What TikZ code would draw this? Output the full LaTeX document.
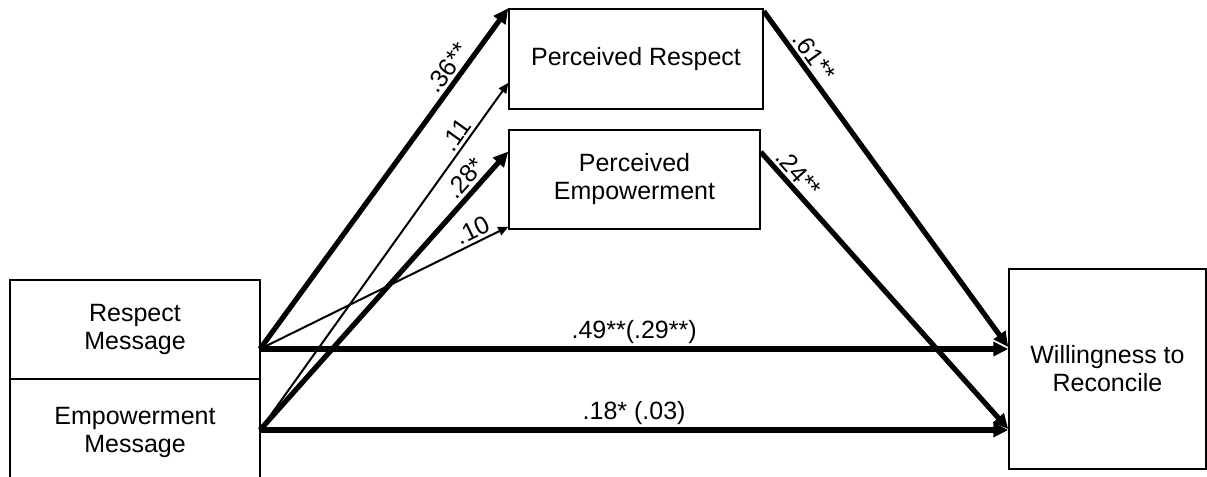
\documentclass[tikz,border=0pt]{standalone}
\usepackage{fontspec}
\setmainfont{Liberation Sans}
\usetikzlibrary{arrows.meta}

\begin{document}
\begin{tikzpicture}[x=0.5pt, y=-0.5pt,
  box/.style={rectangle, draw, line width=0.75pt, align=center,
              inner sep=2pt, font=\fontsize{12.5}{14}\selectfont},
  lbl/.style={font=\fontsize{12.5}{14}\selectfont, inner sep=1.5pt},
  arr/.style={-{Triangle[length=7.5pt,width=7pt]}, line width=2.6pt},
  arrthin/.style={-{Triangle[length=5pt,width=4.5pt]}, line width=1pt}
]
\useasboundingbox (0,0) rectangle (1207,477);
\clip (0,0) rectangle (1207,477);

\node[box, minimum width=125pt, minimum height=49.5pt] (rm) at (135,329.5)
  {Respect\\Message};
\node[box, minimum width=125pt, minimum height=53pt] (em) at (135,432)
  {Empowerment\\Message};
\node[box, minimum width=127pt, minimum height=50pt] (pr) at (636,59)
  {Perceived Respect};
\node[box, minimum width=125.5pt, minimum height=49.5pt] (pe) at (634.5,179.5)
  {Perceived\\Empowerment};
\node[box, minimum width=98.5pt, minimum height=100pt] (wr) at (1107.5,369)
  {Willingness to\\Reconcile};

% outlets on the message boxes
\coordinate (rmout) at (260,349);
\coordinate (emout) at (260,430);

% a paths
\draw[arr] (rmout) -- node[lbl, sloped, above, pos=0.8]{.36**} (pr.north west);
\draw[arrthin] (rmout) -- node[lbl, sloped, above, pos=0.88]{.10} ([yshift=1.5pt]pe.south west);
\draw[arrthin] (emout) -- node[lbl, sloped, above, pos=0.83]{.11} ([yshift=-12pt]pr.west);
\draw[arr] (emout) -- node[lbl, sloped, above, pos=0.87]{.28*} ([yshift=14pt]pe.west);

% b paths
\draw[arr] ([yshift=-1.5pt]pr.north east) -- node[lbl, sloped, above, pos=0.16]{.61**} ([yshift=11pt]wr.west);
\draw[arr] ([yshift=13.75pt]pe.east) -- node[lbl, sloped, above, pos=0.11]{.24**} ([yshift=-30pt]wr.west);

% c paths
\draw[arr] (rmout) -- node[lbl, above]{.49**(.29**)} (wr.west |- rmout);
\draw[arr] (emout) -- node[lbl, above]{.18* (.03)} (wr.west |- emout);
\end{tikzpicture}
\end{document}
